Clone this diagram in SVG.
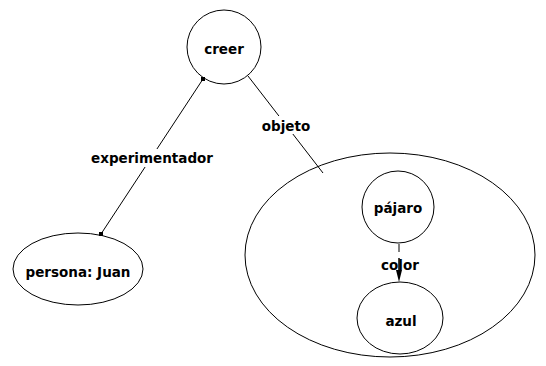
<svg xmlns="http://www.w3.org/2000/svg" width="546" height="366" viewBox="0 0 546 366">
<style>
.n{fill:#fff;stroke:#000;stroke-width:1}
.t{font-family:"DejaVu Sans",sans-serif;font-weight:bold;font-size:13.5px;text-anchor:middle;fill:#000}
.e{stroke:#000;stroke-width:1;fill:none}
.bg{fill:#fff}
.dot{fill:#000}
</style>
<rect width="546" height="366" fill="#fff"/>
<g id="creer">
<circle class="n" cx="224" cy="47" r="37"/>
<text class="t" x="224" y="54">creer</text>
</g>
<g id="persona">
<ellipse class="n" cx="78" cy="269" rx="65" ry="36"/>
<text class="t" x="78" y="277">persona: Juan</text>
</g>
<g id="objeto-contexto">
<ellipse class="n" cx="390" cy="255" rx="145" ry="102"/>
</g>
<g id="pajaro">
<circle class="n" cx="398" cy="207" r="36"/>
<text class="t" x="398" y="213">pájaro</text>
</g>
<g id="azul">
<ellipse class="n" cx="400" cy="318" rx="43" ry="36"/>
<text class="t" x="401" y="326">azul</text>
</g>
<g id="connectors">
<line class="e" x1="203" y1="79" x2="101" y2="234"/>
<rect class="bg" x="88" y="149" width="128" height="18"/>
<text class="t" x="152" y="163">experimentador</text>
<rect class="dot" x="201" y="77" width="4" height="4"/>
<rect class="dot" x="99" y="232" width="4" height="4"/>
<line class="e" x1="248" y1="76" x2="323" y2="173"/>
<rect class="bg" x="262" y="116" width="48" height="18"/>
<text class="t" x="286" y="131">objeto</text>
<line class="e" x1="399" y1="244" x2="399" y2="252"/>
<text class="t" x="400" y="270">color</text>
<line x1="399" y1="258" x2="399" y2="272" stroke="#000" stroke-width="1.5"/>
<path d="M396,270 L402,270 L399,282 Z" fill="#000"/>
</g>
</svg>
